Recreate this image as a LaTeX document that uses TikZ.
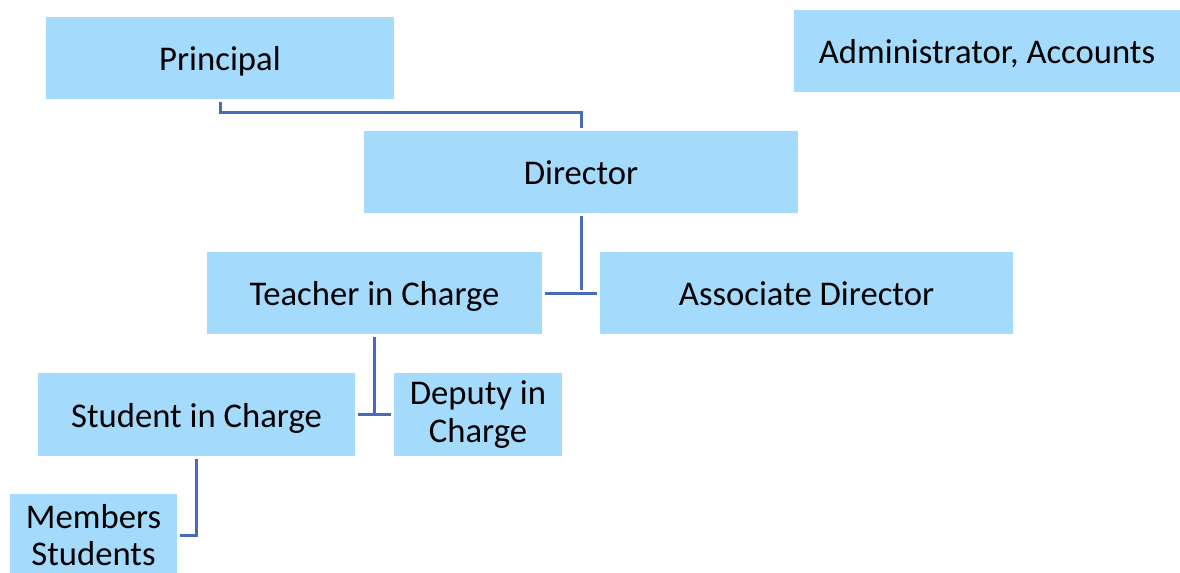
\documentclass[tikz,border=0pt]{standalone}
\usepackage{fontspec}
\setmainfont{Carlito}
\usetikzlibrary{calc}
\definecolor{boxblue}{RGB}{164,218,252}
\definecolor{linkblue}{RGB}{68,108,184}
\newcommand{\px}{0.75pt}
\tikzset{
  orgbox/.style = {fill = boxblue, draw = none, inner sep = 0pt, align = center,
    minimum height = 82*\px, font = \fontsize{26}{28}\selectfont},
  oneline/.style = {text height = 24pt, text depth = 5pt},
  link/.style = {draw = linkblue, line width = 3*\px, shorten <= 3*\px, shorten >= 3*\px}
}
\begin{document}
\begin{tikzpicture}[x = 0.75pt, y = -0.75pt]
\useasboundingbox (0,0) rectangle (1180,572);
\node[orgbox, oneline, minimum width = 348*\px] (principal) at (220,58) {Principal};
\node[orgbox, oneline, minimum width = 386*\px] (admin) at (987,51) {Administrator, Accounts};
\node[orgbox, oneline, minimum width = 434*\px] (director) at (581,172) {Director};
\node[orgbox, oneline, minimum width = 335*\px] (teacher) at (374.5,293) {Teacher in Charge};
\node[orgbox, oneline, minimum width = 413*\px] (associate) at (806.5,293) {Associate Director};
\node[orgbox, oneline, minimum width = 317*\px, minimum height = 83*\px] (student) at (196.5,414.5) {Student in Charge};
\node[orgbox, minimum width = 168*\px, minimum height = 83*\px] (deputy) at (478,414.5) {Deputy in\\Charge};
\node[orgbox, minimum width = 167*\px] (members) at (93.5,535) {Members\\Students};
\draw[link] (principal.south) -- ++(0,13) -| (director.north);
\draw[link] (director.south) -- (director.south |- teacher.east);
\draw[link] (teacher.east) -- (associate.west);
\draw[link] (teacher.south) -- ([yshift = -1*\px]teacher.south |- student.east);
\draw[link] (student.east) -- (deputy.west);
\draw[link] (student.south) |- (members.east);
\end{tikzpicture}
\end{document}
